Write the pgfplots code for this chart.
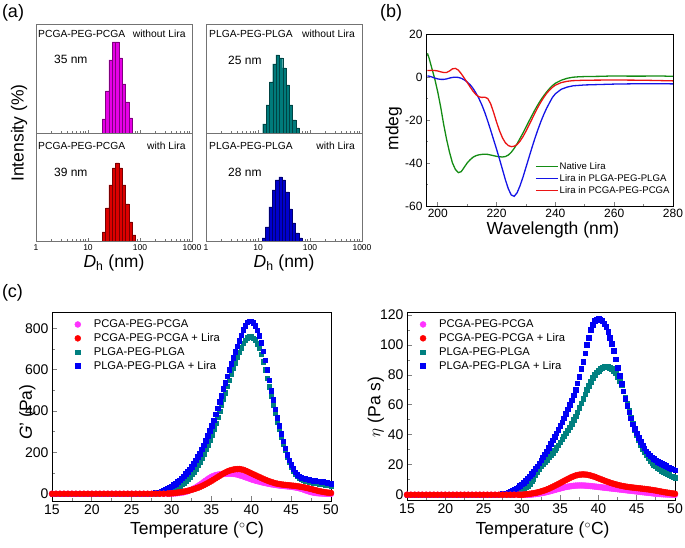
\documentclass[border=0pt]{standalone}
\usepackage{fontspec}
\setmainfont{Liberation Sans}
\usepackage{pgfplots}
\pgfplotsset{compat=1.18}
\usepackage{pgfplotstable}

\definecolor{hmag}{RGB}{230,0,230}
\definecolor{hred}{RGB}{220,0,0}
\definecolor{hteal}{RGB}{0,123,123}
\definecolor{hblue}{RGB}{0,0,205}
\definecolor{cdgreen}{RGB}{20,140,20}
\definecolor{cdblue}{RGB}{20,20,230}
\definecolor{cdred}{RGB}{235,20,20}
\definecolor{mmag}{RGB}{255,50,255}
\definecolor{mred}{RGB}{255,0,0}
\definecolor{mteal}{RGB}{0,128,128}
\definecolor{mblue}{RGB}{0,0,245}

% rheology, T (C), G' (Pa), eta (Pa s)
\pgfplotstableread{
T G eta
15 0 0
15.5 0 0
16 0 0
16.5 0 0
17 0 0
17.5 0 0
18 0 0
18.5 0 0
19 0 0
19.5 0 0
20 0 0
20.5 0 0
21 0 0
21.5 0 0
22 0 0
22.5 0 0
23 0 0
23.5 0 0
24 0 0
24.5 0 0
25 0 0
25.5 0 0
26 0 0
26.5 0 0
27 0 0
27.5 0 0
28 0 0
28.5 0 0
29 0 0
29.5 0 0
29.75 0.5 0
30 1 0
30.25 1.5 0
30.5 2 0
30.75 3 0
31 4 0
31.25 5.5 0.15
31.5 7 0.3
31.75 9.5 0.45
32 12 0.6
32.25 16 0.8
32.5 20 1
32.75 25 1.25
33 30 1.5
33.25 36 1.8
33.5 42 2.1
33.75 49 2.45
34 56 2.8
34.25 63 3.15
34.5 70 3.5
34.75 76 3.85
35 82 4.2
35.25 86 4.55
35.5 90 4.9
35.75 92 5.15
36 94 5.4
36.25 95 5.6
36.5 96 5.8
36.75 96.5 5.95
37 97 6.1
37.25 97 6.15
37.5 97 6.2
37.75 96 6.2
38 95 6.2
38.25 93 6.1
38.5 90 6
38.75 87 5.9
39 84 5.8
39.25 80.5 5.65
39.5 77 5.5
39.75 73.5 5.35
40 70 5.2
40.25 67 5.05
40.5 64 4.9
40.75 61.5 4.75
41 59 4.6
41.25 56.5 4.45
41.5 54 4.3
41.75 52 4.15
42 50 4
42.25 48 3.85
42.5 46 3.7
42.75 44.5 3.55
43 43 3.4
43.25 41.5 3.25
43.5 40 3.1
43.75 39 2.95
44 38 2.8
44.25 37 2.65
44.5 36 2.5
44.75 35 2.35
45 34 2.2
45.25 32.5 2.05
45.5 31 1.9
45.75 29 1.75
46 27 1.6
46.25 24 1.45
46.5 21 1.3
46.75 17.5 1.15
47 14 1
47.25 11 0.85
47.5 8 0.7
47.75 6 0.6
48 4 0.5
48.25 3 0.4
48.5 2 0.3
48.75 1.5 0.25
49 1 0.2
49.25 0.5 0.15
49.5 0 0.1
49.75 0 0.05
50 0 0
}\pcga

\pgfplotstableread{
T G eta
15 0 0
15.5 0 0
16 0 0
16.5 0 0
17 0 0
17.5 0 0
18 0 0
18.5 0 0
19 0 0
19.5 0 0
20 0 0
20.5 0 0
21 0 0
21.5 0 0
22 0 0
22.5 0 0
23 0 0
23.5 0 0
24 0 0
24.5 0 0
25 0 0
25.5 0 0
26 0 0
26.5 0 0
27 0 0
27.5 0 0
28 0 0
28.5 0 0
29 0 0
29.5 1 0
29.75 1.5 0
30 2 0
30.25 3 0.15
30.5 4 0.3
30.75 5.5 0.45
31 7 0.6
31.25 8.5 0.8
31.5 10 1
31.75 12 1.25
32 14 1.5
32.25 16.5 1.85
32.5 19 2.2
32.75 22 2.6
33 25 3
33.25 28.5 3.5
33.5 32 4
33.75 36.5 4.6
34 41 5.2
34.25 46 5.85
34.5 51 6.5
34.75 56.5 7.15
35 62 7.8
35.25 68 8.5
35.5 74 9.2
35.75 80 9.85
36 86 10.5
36.25 92 11.15
36.5 98 11.8
36.75 103 12.3
37 108 12.8
37.25 111.5 13.1
37.5 115 13.4
37.75 117 13.5
38 119 13.6
38.25 119.5 13.5
38.5 120 13.4
38.75 118 13.1
39 116 12.8
39.25 112 12.4
39.5 108 12
39.75 103.5 11.5
40 99 11
40.25 94.5 10.5
40.5 90 10
40.75 85.5 9.5
41 81 9
41.25 76.5 8.55
41.5 72 8.1
41.75 68 7.7
42 64 7.3
42.25 60.5 6.95
42.5 57 6.6
42.75 54 6.3
43 51 6
43.25 49 5.75
43.5 47 5.5
43.75 45.5 5.3
44 44 5.1
44.25 43 4.95
44.5 42 4.8
44.75 41 4.65
45 40 4.5
45.25 39 4.35
45.5 38 4.2
45.75 36.5 4.05
46 35 3.9
46.25 33.5 3.75
46.5 32 3.6
46.75 30 3.4
47 28 3.2
47.25 25.5 3
47.5 23 2.8
47.75 20.5 2.55
48 18 2.3
48.25 15.5 2.05
48.5 13 1.8
48.75 11 1.6
49 9 1.4
49.25 7.5 1.2
49.5 6 1
49.75 5 0.85
50 4 0.7
}\pcgalira

\pgfplotstableread{
T G eta
15 0 0
15.5 0 0
16 0 0
16.5 0 0
17 0 0
17.5 0 0
18 0 0
18.5 0 0
19 0 0
19.5 0 0
20 0 0
20.5 0 0
21 0 0
21.5 0 0
22 0 0
22.5 0 0
23 0 0
23.5 0 0
24 0 0
24.5 0 0
25 0 0
25.5 0 0
26 0 0
26.5 0 0
27 0 0
27.5 0 0
28 0 0
28.25 1 0
28.5 2 0
28.75 3.5 0.2
29 5 0.5
29.25 7.5 1
29.5 10 1.5
29.75 13 2.2
30 17 3
30.25 22 4
30.5 27 5
30.75 33 6.2
31 40 7.5
31.25 47 9
31.5 55 10.5
31.75 64 13
32 73 15.5
32.25 84 17.3
32.5 95 19
32.75 108 20.5
33 122 22
33.25 138 23.5
33.5 155 25
33.75 174 26.5
34 193 28
34.25 215 29.7
34.5 237 31.5
34.75 262 33.2
35 287 35
35.25 314 37
35.5 342 39
35.75 371 41
36 400 43
36.25 430 45.2
36.5 460 47.5
36.75 490 50
37 520 52.5
37.25 550 55.2
37.5 580 58
37.75 608 61
38 635 64
38.25 661 67
38.5 685 70
38.75 707 72.8
39 728 75.5
39.25 743 78
39.5 755 80
39.75 759 81.7
40 760 83
40.25 754 84.2
40.5 745 85
40.75 727 85.4
41 705 85.5
41.25 675 85.4
41.5 640 85
41.75 601 84.2
42 560 83
42.25 518 81.2
42.5 475 79
42.75 432 76.2
43 390 73
43.25 350 69.2
43.5 312 65
43.75 276 60.6
44 242 56
44.25 210 51.7
44.5 180 47.5
44.75 155 43.6
45 132 40
45.25 113 36.6
45.5 98 33.5
45.75 86 30.8
46 77 28.5
46.25 71 26.4
46.5 66 24.5
46.75 63 22.9
47 60 21.5
47.25 58 20.2
47.5 56 19
47.75 54 18
48 52 17
48.25 50.5 16.2
48.5 49 15.5
48.75 47.5 14.7
49 46 14
49.25 44.5 13.2
49.5 43 12.5
49.75 41.5 12
50 40 11.5
}\plga

\pgfplotstableread{
T G eta
15 0 0
15.5 0 0
16 0 0
16.5 0 0
17 0 0
17.5 0 0
18 0 0
18.5 0 0
19 0 0
19.5 0 0
20 0 0
20.5 0 0
21 0 0
21.5 0 0
22 0 0
22.5 0 0
23 0 0
23.5 0 0
24 0 0
24.5 0 0
25 0 0
25.5 0 0
26 0 0
26.5 0 0
27 1 0.3
27.25 1.5 0.4
27.5 2 0.6
27.75 3 0.8
28 4 1
28.25 6 1.5
28.5 8 2
28.75 11 2.7
29 15 3.5
29.25 20 4.2
29.5 25 5
29.75 31 6
30 37 7
30.25 43 8.2
30.5 50 9.5
30.75 58 11
31 66 12.5
31.25 75 14
31.5 85 15.5
31.75 96 17.2
32 107 19
32.25 119 21
32.5 132 23
32.75 147 25
33 162 27
33.25 178 29.2
33.5 195 31.5
33.75 215 34
34 235 36.5
34.25 257 38.7
34.5 280 41
34.75 305 43.5
35 330 46
35.25 357 48.5
35.5 385 51
35.75 415 54
36 445 57
36.25 476 60
36.5 508 63
36.75 539 66.5
37 570 70
37.25 600 74.5
37.5 630 79
37.75 659 84
38 688 89
38.25 715 94.5
38.5 740 100
38.75 768 105
39 795 110
39.25 815 113.5
39.5 830 116
39.75 835 117.2
40 835 117.5
40.25 827 117
40.5 815 116
40.75 792 114.3
41 765 112
41.25 730 109
41.5 690 105
41.75 646 100.7
42 600 96
42.25 550 90.5
42.5 500 85
42.75 454 79.5
43 410 74
43.25 369 69
43.5 330 64
43.75 292 59.5
44 255 55
44.25 221 51
44.5 190 47
44.75 163 44
45 140 41
45.25 121 38
45.5 105 35.5
45.75 93 33.2
46 85 31
46.25 79 29.2
46.5 75 27.5
46.75 72 26.2
47 70 25
47.25 68 24
47.5 66 23
47.75 64.5 22.2
48 63 21.5
48.25 61.5 20.7
48.5 60 20
48.75 58.5 19.2
49 57 18.5
49.25 55.5 18
49.5 54 17.5
49.75 52 17
50 50 16.5
}\plgalira

\tikzset{
  boxtxt/.style={anchor=west, inner sep=0pt, font=\fontsize{10.3}{12}\selectfont},
  boxtxtr/.style={anchor=east, inner sep=0pt, font=\fontsize{10.3}{12}\selectfont},
  sizetxt/.style={anchor=west, inner sep=0pt, font=\fontsize{12}{14}\selectfont},
}

\pgfplotsset{
  every axis/.append style={/pgf/number format/assume math mode=true},
  dlsaxis/.style={scale only axis, width=156pt, xmin=1, xmax=1000, ymin=0,
    xtick={1,10,100,1000},
    minor xtick={2,3,4,5,6,7,8,9,20,30,40,50,60,70,80,90,200,300,400,500,600,700,800,900},
    xtick pos=left, ytick=\empty, tick align=inside,
    major tick length=3pt, minor tick length=1.5pt,
    axis line style={black!55, line width=0.8pt}, tick style={black!55, line width=0.5pt},
    tick label style={font=\fontsize{8.5}{10}\selectfont},
    label style={font=\fontsize{17.5}{20}\selectfont}},
  rheoaxis/.style={scale only axis, xmin=15, xmax=50, xtick={15,20,...,50},
    minor x tick num=1, minor y tick num=1,
    tick align=inside, xtick pos=left, ytick pos=left,
    major tick length=4.5pt, minor tick length=2.5pt,
    axis line style={line width=0.8pt}, tick style={line width=0.8pt},
    tick label style={font=\fontsize{14}{16}\selectfont},
    label style={font=\fontsize{17.5}{20}\selectfont},
    xlabel={Temperature ($^{\circ}$C)},
    legend cell align=left,
    legend image code/.code={\draw[##1] plot coordinates {(0pt,0pt)};},
    legend style={draw=none, fill=none, anchor=north west, inner sep=0pt,
      font=\fontsize{11.2}{13}\selectfont, row sep=2.4pt,
      nodes={inner sep=1pt},
      /tikz/every odd column/.append style={column sep=12pt}}},
  gmark/.style={only marks, mark=*, mark size=3pt},
  smark/.style={only marks, mark=square*, mark size=2.3pt},
}

\begin{document}
\begin{tikzpicture}
\path[use as bounding box] (0pt,0pt) rectangle (685pt,548pt);

\node[font=\fontsize{18}{20}\selectfont] at (13pt,535pt) {(a)};
\node[font=\fontsize{18}{20}\selectfont] at (391pt,535.5pt) {(b)};
\node[font=\fontsize{18}{20}\selectfont] at (12.5pt,255pt) {(c)};

% (a) top left
\begin{semilogxaxis}[dlsaxis, at={(36pt,415pt)}, anchor=south west, height=109pt, ymax=109,
  xticklabels={},
  ylabel={Intensity (\%)},
  ylabel style={at={(axis description cs:-0.109,0)}, anchor=center}]
\addplot[ybar interval, line width=0.3pt, fill=hmag, draw=hmag!55!black] coordinates {
  (18.84,14) (21.83,42) (25.29,73) (29.31,91) (33.96,91) (39.36,75)
  (45.60,49) (52.84,31) (61.24,15) (70.96,0)};
\node[boxtxt] at (rel axis cs:0.013,0.908) {PCGA-PEG-PCGA};
\node[boxtxtr] at (rel axis cs:0.96,0.908) {without Lira};
\node[sizetxt] at (rel axis cs:0.115,0.679) {35 nm};
\end{semilogxaxis}

% (a) bottom left
\begin{semilogxaxis}[dlsaxis, at={(36pt,307pt)}, anchor=south west, height=108pt, ymax=108,
  xticklabels={1,10,100,1000},
  xlabel={\textit{D}\textsubscript{h} (nm)},
  xlabel style={at={(axis description cs:0.5,-0.2)}, anchor=center}]
\addplot[ybar interval, line width=0.3pt, fill=hred, draw=hred!55!black] coordinates {
  (18.84,9) (21.83,33) (25.29,56) (29.31,73) (33.96,78) (39.36,73)
  (45.60,56) (52.84,37) (61.24,19) (70.96,6) (82.22,0)};
\node[boxtxt] at (rel axis cs:0.013,0.88) {PCGA-PEG-PCGA};
\node[boxtxtr] at (rel axis cs:0.96,0.88) {with Lira};
\node[sizetxt] at (rel axis cs:0.115,0.639) {39 nm};
\end{semilogxaxis}

% (a) top right
\begin{semilogxaxis}[dlsaxis, at={(206pt,415pt)}, anchor=south west, height=109pt, ymax=109,
  xticklabels={}]
\addplot[ybar interval, line width=0.3pt, fill=hteal, draw=hteal!55!black] coordinates {
  (12.30,9) (14.26,28) (16.52,51) (19.14,69) (22.18,78) (25.70,75)
  (29.79,65) (34.51,48) (39.99,28) (46.34,13) (53.70,5) (62.23,0)};
\node[boxtxt] at (rel axis cs:0.019,0.908) {PLGA-PEG-PLGA};
\node[boxtxtr] at (rel axis cs:0.955,0.908) {without Lira};
\node[sizetxt] at (rel axis cs:0.141,0.67) {25 nm};
\end{semilogxaxis}

% (a) bottom right
\begin{semilogxaxis}[dlsaxis, at={(206pt,307pt)}, anchor=south west, height=108pt, ymax=108,
  xticklabels={1,10,100,1000},
  xlabel={\textit{D}\textsubscript{h} (nm)},
  xlabel style={at={(axis description cs:0.5,-0.2)}, anchor=center}]
\addplot[ybar interval, line width=0.3pt, fill=hblue, draw=hblue!55!black] coordinates {
  (12.02,3) (13.93,14) (16.14,34) (18.71,51) (21.68,61) (25.12,64)
  (29.11,61) (33.73,49) (39.08,32) (45.29,18) (52.48,8) (60.81,3) (70.47,0)};
\node[boxtxt] at (rel axis cs:0.019,0.88) {PLGA-PEG-PLGA};
\node[boxtxtr] at (rel axis cs:0.955,0.88) {with Lira};
\node[sizetxt] at (rel axis cs:0.141,0.639) {28 nm};
\end{semilogxaxis}

% (b) CD spectra
\begin{axis}[scale only axis, at={(426pt,342pt)}, anchor=south west,
  width=247pt, height=172pt,
  xmin=196, xmax=280, ymin=-60, ymax=20,
  xtick={200,220,240,260,280}, minor x tick num=1,
  ytick={-60,-40,-20,0,20}, yticklabels={-60,-40,-20,0,20}, minor y tick num=1,
  tick align=inside, xtick pos=left, ytick pos=left,
  major tick length=4pt, minor tick length=2.2pt,
  axis line style={line width=0.8pt}, tick style={line width=0.8pt},
  tick label style={font=\fontsize{12}{14}\selectfont},
  label style={font=\fontsize{17.5}{20}\selectfont},
  xlabel={Wavelength (nm)}, ylabel={mdeg},
  xlabel style={at={(axis description cs:0.514,-0.14)}, anchor=center},
  ylabel style={at={(axis description cs:-0.13,0.45)}, anchor=center},
  legend cell align=left,
  legend image code/.code={\draw[#1, line width=1.6pt] (0pt,0pt) -- (22pt,0pt);},
  legend style={draw=none, fill=none, at={(axis description cs:0.441,0.262)},
    anchor=north west, inner sep=0pt, font=\fontsize{9.6}{11}\selectfont,
    nodes={inner sep=1pt}, row sep=1.6pt}]
\addplot[cdgreen, line width=1.3pt] coordinates {
  (196.5,11) (197,9) (198,4) (199,-1) (200,-7) (201,-14) (202,-22) (203,-29)
  (204,-35) (205,-40) (206,-43) (207,-44.5) (208,-44) (209,-42) (210,-40)
  (211,-38.5) (212,-37.3) (213,-36.6) (214,-36.2) (215,-36) (216,-35.9)
  (217,-36) (218,-36.3) (219,-36.6) (220,-36.9) (221,-37.1) (222,-37.2)
  (223,-37) (224,-36.3) (225,-35) (226,-33.2) (227,-31) (228,-28.5) (229,-26)
  (230,-23.3) (231,-20.6) (232,-18) (233,-15.4) (234,-13) (235,-10.8)
  (236,-8.8) (237,-7) (238,-5.4) (239,-4) (240,-2.9) (242,-1.5) (244,-0.6)
  (246,-0.1) (248,0.1) (250,0.2) (255,0.3) (260,0.5) (265,0.4) (270,0.4)
  (275,0.5) (280,0.3)};
\addlegendentry{Native Lira}
\addplot[cdblue, line width=1.3pt] coordinates {
  (196.5,0.5) (197,0.4) (198,0) (199,-0.5) (200,-0.9) (201,-1.1) (202,-1.1)
  (203,-0.9) (204,-0.5) (205,-0.2) (206,-0.1) (207,-0.2) (208,-0.6)
  (209,-1.3) (210,-2.3) (211,-3.6) (212,-5.3) (213,-7.5) (214,-10) (215,-13)
  (216,-16.5) (217,-20.5) (218,-24.8) (219,-29.2) (220,-33.6) (221,-38.2)
  (222,-43) (223,-47.8) (224,-52) (225,-54.9) (226,-55.5) (227,-53.8)
  (228,-50.5) (229,-46.5) (230,-42) (231,-37.5) (232,-33) (233,-28.7)
  (234,-24.7) (235,-21) (236,-17.6) (237,-14.6) (238,-12) (239,-9.5)
  (240,-7.8) (242,-5.7) (244,-4.7) (246,-4.1) (250,-3.7) (260,-3.3)
  (270,-3.1) (280,-3.2)};
\addlegendentry{Lira in PLGA-PEG-PLGA}
\addplot[cdred, line width=1.3pt] coordinates {
  (196.5,3) (197,3) (198,3.1) (199,3) (200,2.8) (201,2.4) (202,2.1) (203,2.1)
  (204,2.8) (205,3.8) (206,4) (207,3.2) (208,1.5) (209,-0.5) (210,-2.5)
  (211,-4.6) (212,-6.6) (213,-8.2) (214,-9.2) (215,-9.5) (216,-9.4)
  (217,-10) (218,-12.5) (219,-16.5) (220,-21) (221,-25) (222,-28.3)
  (223,-30.6) (224,-31.9) (225,-32.4) (226,-32.2) (227,-31.4) (228,-29.8)
  (229,-27.7) (230,-25.2) (231,-22.5) (232,-19.7) (233,-16.9) (234,-14.2)
  (235,-11.8) (236,-9.6) (237,-7.7) (238,-6.1) (239,-4.8) (240,-3.8)
  (242,-2.6) (244,-2) (246,-1.7) (250,-1.5) (260,-1.4) (270,-1.5) (280,-1.8)};
\addlegendentry{Lira in PCGA-PEG-PCGA}
\end{axis}

% (c) G'
\begin{axis}[rheoaxis, at={(52pt,47pt)}, anchor=south west, width=279pt, height=189pt,
  ymin=-35, ymax=880, ytick={0,200,400,600,800},
  ylabel={\textit{G}' (Pa)},
  xlabel style={at={(axis description cs:0.52,-0.153)}, anchor=center},
  ylabel style={at={(axis description cs:-0.088,0.47)}, anchor=center},
  legend style={at={(axis description cs:0.081,0.965)}}]
\addlegendimage{mark=*, mark size=3pt, color=mmag}
\addlegendentry{PCGA-PEG-PCGA}
\addlegendimage{mark=*, mark size=3pt, color=mred}
\addlegendentry{PCGA-PEG-PCGA + Lira}
\addlegendimage{mark=square*, mark size=2.4pt, color=mteal}
\addlegendentry{PLGA-PEG-PLGA}
\addlegendimage{mark=square*, mark size=2.4pt, color=mblue}
\addlegendentry{PLGA-PEG-PLGA + Lira}
\addplot[forget plot, smark, color=mteal] table[x=T, y=G] {\plga};
\addplot[forget plot, smark, color=mblue] table[x=T, y=G] {\plgalira};
\addplot[forget plot, gmark, color=mmag] table[x=T, y=G] {\pcga};
\addplot[forget plot, gmark, color=mred] table[x=T, y=G] {\pcgalira};
\end{axis}

% (c) eta
\begin{axis}[rheoaxis, at={(407pt,48pt)}, anchor=south west, width=268pt, height=188pt,
  ymin=-3.5, ymax=122, ytick={0,20,...,120},
  ylabel={$\eta$ (Pa s)},
  xlabel style={at={(axis description cs:0.506,-0.16)}, anchor=center},
  ylabel style={at={(axis description cs:-0.116,0.496)}, anchor=center},
  legend style={at={(axis description cs:0.048,0.965)}}]
\addlegendimage{mark=*, mark size=3pt, color=mmag}
\addlegendentry{PCGA-PEG-PCGA}
\addlegendimage{mark=*, mark size=3pt, color=mred}
\addlegendentry{PCGA-PEG-PCGA + Lira}
\addlegendimage{mark=square*, mark size=2.4pt, color=mteal}
\addlegendentry{PLGA-PEG-PLGA}
\addlegendimage{mark=square*, mark size=2.4pt, color=mblue}
\addlegendentry{PLGA-PEG-PLGA + Lira}
\addplot[forget plot, smark, color=mteal] table[x=T, y=eta] {\plga};
\addplot[forget plot, smark, color=mblue] table[x=T, y=eta] {\plgalira};
\addplot[forget plot, gmark, color=mmag] table[x=T, y=eta] {\pcga};
\addplot[forget plot, gmark, color=mred] table[x=T, y=eta] {\pcgalira};
\end{axis}
\end{tikzpicture}
\end{document}
